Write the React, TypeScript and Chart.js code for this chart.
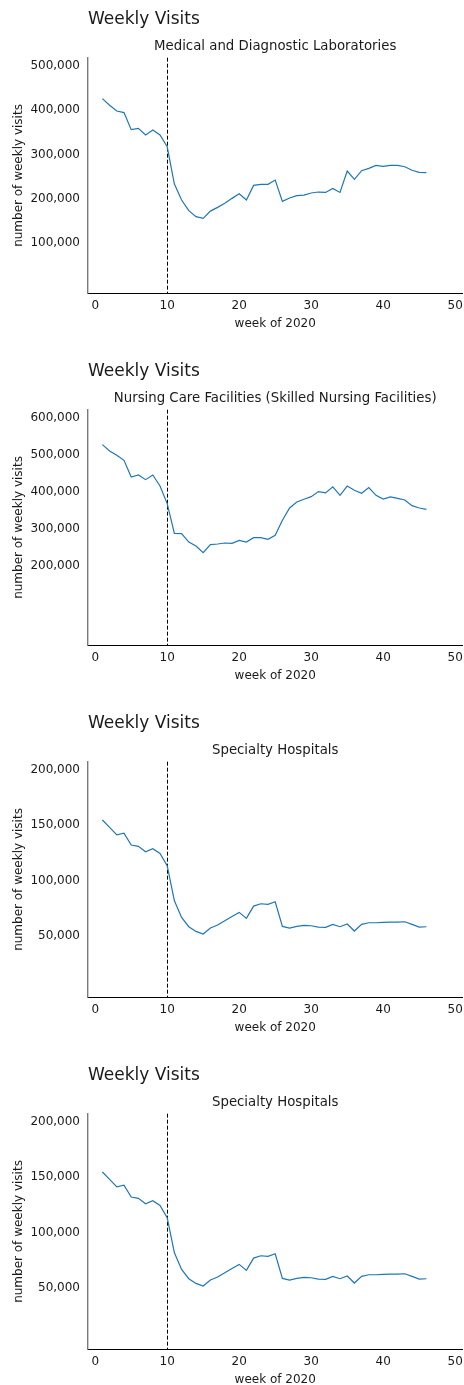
import React, { useEffect, useRef } from 'react';
import { Chart, registerables } from 'chart.js';

Chart.register(...registerables);

const WEEKS = [1, 2, 3, 4, 5, 6, 7, 8, 9, 10, 11, 12, 13, 14, 15, 16, 17, 18, 19, 20, 21, 22, 23, 24, 25, 26, 27, 28, 29, 30, 31, 32, 33, 34, 35, 36, 37, 38, 39, 40, 41, 42, 43, 44, 45, 46];

const LAB_VISITS = [
  422600, 407500, 394700, 391000, 352600, 355600, 340600, 352000, 340600, 314000,
  230000, 194000, 170000, 156400, 152600, 169000, 177400, 186500, 197700, 208000,
  194000, 227000, 229300, 229300, 239000, 191000, 198500, 203700, 205000, 209800,
  212000, 211000, 220000, 211000, 259400, 240600, 260000, 265400, 272000, 270000,
  272000, 272000, 269000, 261000, 256400, 255600,
];

const NURSING_VISITS = [
  523600, 506500, 494800, 481300, 436400, 441800, 429200, 441800, 412000, 364500,
  284500, 283600, 261000, 250300, 232400, 254000, 255700, 258400, 257500, 265600,
  261000, 272800, 272800, 268300, 279000, 319600, 352800, 369000, 376200, 383400,
  397000, 393300, 409600, 387000, 412000, 400400, 392400, 407600, 387000, 377000,
  382500, 378900, 374400, 359000, 352800, 349200,
];

const SPECIALTY_VISITS = [
  153400, 146800, 139900, 141400, 130800, 129600, 124800, 127500, 123300, 112200,
  80600, 65600, 57200, 53000, 50600, 56000, 58700, 62600, 66500, 70100,
  64700, 75800, 77900, 77300, 79700, 57500, 56000, 57500, 58400, 58100,
  56900, 56600, 59300, 57200, 59600, 53300, 59300, 60800, 60800, 61100,
  61400, 61400, 61700, 59300, 56900, 57200,
];

const X_TICKS = [0, 10, 20, 30, 40, 50];
const LAB_Y_TICKS = [100000, 200000, 300000, 400000, 500000];
const NURSING_Y_TICKS = [200000, 300000, 400000, 500000, 600000];
const SPECIALTY_Y_TICKS = [50000, 100000, 150000, 200000];

const LOCKDOWN_WEEK = 10;

const MAIN_TITLE = 'Weekly Visits';
const X_LABEL = 'week of 2020';
const Y_LABEL = 'number of weekly visits';

const FONT = 'DejaVu Sans';
const TEXT_COLOR = '#1a1a1a';
const LINE_COLOR = '#1f77b4';

const BLOCK_H = 352;
const PLOT_BOTTOM = 293.3;

type Panel = {
  subtitle: string;
  values: number[];
  yTicks: number[];
  yMin: number;
  yMax: number;
};

const PANELS: Panel[] = [
  { subtitle: 'Medical and Diagnostic Laboratories', values: LAB_VISITS, yTicks: LAB_Y_TICKS, yMin: -16300, yMax: 514900 },
  { subtitle: 'Nursing Care Facilities (Skilled Nursing Facilities)', values: NURSING_VISITS, yTicks: NURSING_Y_TICKS, yMin: -17300, yMax: 617800 },
  { subtitle: 'Specialty Hospitals', values: SPECIALTY_VISITS, yTicks: SPECIALTY_Y_TICKS, yMin: -6400, yMax: 205950 },
  { subtitle: 'Specialty Hospitals', values: SPECIALTY_VISITS, yTicks: SPECIALTY_Y_TICKS, yMin: -6400, yMax: 205950 },
];

const vlinePlugin = {
  id: 'vline',
  beforeDatasetsDraw(chart: any) {
    const x = Math.floor(chart.scales.x.getPixelForValue(LOCKDOWN_WEEK)) + 0.5;
    const { top, bottom } = chart.chartArea;
    const ctx = chart.ctx;
    ctx.save();
    ctx.setLineDash([4, 2]);
    ctx.strokeStyle = '#000';
    ctx.lineWidth = 1;
    ctx.beginPath();
    ctx.moveTo(x, top);
    ctx.lineTo(x, bottom);
    ctx.stroke();
    ctx.restore();
  },
};

function PanelChart({ panel }: { panel: Panel }) {
  const ref = useRef<HTMLCanvasElement | null>(null);
  useEffect(() => {
    if (!ref.current) return;
    const chart = new Chart(ref.current, {
      type: 'line',
      data: {
        datasets: [
          {
            data: WEEKS.map((w, i) => ({ x: w, y: panel.values[i] })),
            borderColor: LINE_COLOR,
            borderWidth: 1.2,
            pointRadius: 0,
            tension: 0,
            fill: false,
          },
        ],
      },
      options: {
        animation: false,
        responsive: false,
        devicePixelRatio: 1,
        layout: { padding: { top: 0, left: 0, right: 1.6, bottom: 0 } },
        plugins: {
          legend: { display: false },
          tooltip: { enabled: false },
          title: {
            display: true,
            text: MAIN_TITLE,
            align: 'start',
            fullSize: false,
            color: TEXT_COLOR,
            font: { family: FONT, size: 17, weight: 'normal' },
            padding: { top: 9, bottom: 8.6 },
          },
          subtitle: {
            display: true,
            text: panel.subtitle,
            align: 'center',
            fullSize: false,
            color: TEXT_COLOR,
            font: { family: FONT, size: 13.3, weight: 'normal' },
            padding: { top: 0.5, bottom: 3.2 },
          },
        },
        scales: {
          x: {
            type: 'linear',
            min: -1,
            max: 51,
            afterBuildTicks: (s: any) => {
              s.ticks = X_TICKS.map((v) => ({ value: v }));
            },
            afterFit: (s: any) => {
              s.height = BLOCK_H - PLOT_BOTTOM;
              s.paddingLeft = 0;
              s.paddingRight = 0;
            },
            grid: { display: false, drawTicks: false },
            border: { display: true, color: '#000', width: 1 },
            ticks: {
              padding: 5.5,
              color: TEXT_COLOR,
              autoSkip: false,
              maxRotation: 0,
              font: { family: FONT, size: 12 },
              callback: (v: any) => String(v),
            },
            title: {
              display: true,
              text: X_LABEL,
              color: TEXT_COLOR,
              font: { family: FONT, size: 12 },
              padding: { top: 0, bottom: 21 },
            },
          },
          y: {
            type: 'linear',
            min: panel.yMin,
            max: panel.yMax,
            afterBuildTicks: (s: any) => {
              s.ticks = panel.yTicks.map((v) => ({ value: v }));
            },
            afterFit: (s: any) => {
              s.width = 88;
              s.paddingTop = 0;
              s.paddingBottom = 0;
            },
            grid: { display: false, drawTicks: false },
            border: { display: true, color: '#7a7a7a', width: 1.4 },
            ticks: {
              padding: 8,
              labelOffset: 1.5,
              color: TEXT_COLOR,
              autoSkip: false,
              font: { family: FONT, size: 12 },
              callback: (v: any) => Number(v).toLocaleString('en-US'),
            },
            title: {
              display: true,
              text: Y_LABEL,
              color: TEXT_COLOR,
              font: { family: FONT, size: 12 },
              padding: { top: 12, bottom: 0 },
            },
          },
        },
      },
      plugins: [vlinePlugin],
    } as any);
    return () => chart.destroy();
  }, [panel]);
  return (
    <div style={{ width: 464, height: BLOCK_H }}>
      <canvas ref={ref} width={464} height={BLOCK_H} style={{ display: 'block', width: 464, height: BLOCK_H }} />
    </div>
  );
}

export default function App() {
  return (
    <div style={{ position: 'absolute', left: 0, top: 0, width: 464, height: 1385, overflow: 'hidden', background: '#fff' }}>
      {PANELS.map((p, i) => (
        <PanelChart key={i} panel={p} />
      ))}
    </div>
  );
}
